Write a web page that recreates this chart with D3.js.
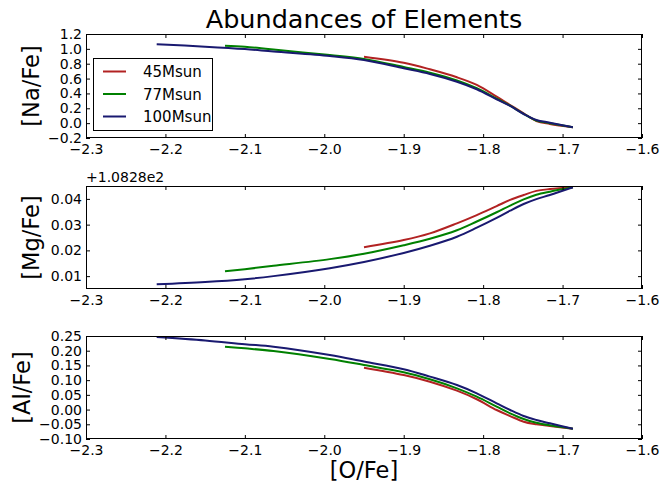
<!DOCTYPE html>
<html>
<head>
<meta charset="utf-8">
<script src="https://cdn.jsdelivr.net/npm/d3@7"></script>
<style>
  html, body { margin: 0; padding: 0; background: #fff; }
  svg { display: block; font-family: "DejaVu Sans", sans-serif; }
</style>
</head>
<body>
<svg id="chart" width="660" height="487"></svg>
<script>
// ---- data -------------------------------------------------------------
const seriesNames = ["45Msun", "77Msun", "100Msun"];
const seriesColors = ["#b22222", "#008000", "#191970"];

// [O/Fe] sample positions for each model
const oFe45  = [-1.95, -1.9, -1.867, -1.833, -1.808, -1.783, -1.766, -1.749, -1.733, -1.716, -1.687];
const oFe77  = [-2.125, -2.1, -2.064, -1.993, -1.95, -1.9, -1.867, -1.833, -1.808, -1.783, -1.766, -1.749, -1.733, -1.716, -1.687];
const oFe100 = [-2.211, -2.15, -2.1, -2.064, -1.993, -1.95, -1.9, -1.867, -1.833, -1.808, -1.783, -1.766, -1.749, -1.733, -1.716, -1.687];

// [Na/Fe]
const naFe45  = [0.895, 0.814, 0.725, 0.617, 0.514, 0.356, 0.244, 0.133, 0.029, -0.011, -0.056];
const naFe77  = [1.043, 1.03, 0.99, 0.917, 0.865, 0.755, 0.678, 0.575, 0.47, 0.33, 0.235, 0.125, 0.035, 0.0, -0.056];
const naFe100 = [1.061, 1.03, 0.998, 0.965, 0.904, 0.85, 0.738, 0.662, 0.558, 0.456, 0.321, 0.231, 0.123, 0.043, 0.006, -0.056];

// [Mg/Fe], stored relative to the axis offset
const mgOffset = 108.28;
const mgFe45  = [0.0212, 0.024, 0.0266, 0.0305, 0.0337, 0.0372, 0.0396, 0.0415, 0.0431, 0.0438, 0.0445];
const mgFe77  = [0.0119, 0.0127, 0.014, 0.0166, 0.0187, 0.022, 0.0245, 0.0278, 0.0312, 0.0348, 0.0374, 0.0398, 0.0416, 0.0428, 0.0445];
const mgFe100 = [0.0068, 0.0077, 0.0088, 0.01, 0.0131, 0.0155, 0.019, 0.0218, 0.0253, 0.0288, 0.0326, 0.0354, 0.038, 0.0399, 0.0415, 0.0445];

// [Al/Fe]
const alFe45  = [0.1424, 0.1175, 0.0948, 0.0642, 0.035, -0.0015, -0.022, -0.0412, -0.05, -0.056, -0.065];
const alFe77  = [0.2137, 0.208, 0.199, 0.1718, 0.1515, 0.1266, 0.1028, 0.0722, 0.0438, 0.0098, -0.0128, -0.032, -0.0446, -0.0535, -0.065];
const alFe100 = [0.247, 0.235, 0.222, 0.2137, 0.1854, 0.163, 0.137, 0.112, 0.0835, 0.0553, 0.0213, -0.0015, -0.022, -0.0354, -0.0467, -0.065];

// axis ticks
const xTicks  = [-2.3, -2.2, -2.1, -2.0, -1.9, -1.8, -1.7, -1.6];
const naTicks = [-0.2, 0.0, 0.2, 0.4, 0.6, 0.8, 1.0, 1.2];
const mgTicks = [0.01, 0.02, 0.03, 0.04];
const alTicks = [-0.10, -0.05, 0.00, 0.05, 0.10, 0.15, 0.20, 0.25];

// ---- layout -----------------------------------------------------------
const svg = d3.select("#chart");
const left = 86, right = 642;
const minus = s => s.replace("-", "\u2212");

const x = d3.scaleLinear().domain([-2.3, -1.6]).range([left, right]);

const panels = [
  { top: 34,  height: 104, domain: [-0.2, 1.2],   ticks: naTicks, fmt: d3.format(".1f"),
    label: "[Na/Fe]", labelX: 39, ys: [naFe45, naFe77, naFe100] },
  { top: 186, height: 103, domain: [0.005, 0.045], ticks: mgTicks, fmt: d3.format(".2f"),
    label: "[Mg/Fe]", labelX: 39, ys: [mgFe45, mgFe77, mgFe100], offset: mgOffset },
  { top: 336, height: 103, domain: [-0.10, 0.25], ticks: alTicks, fmt: d3.format(".2f"),
    label: "[Al/Fe]", labelX: 30, ys: [alFe45, alFe77, alFe100] }
];
const xsBySeries = [oFe45, oFe77, oFe100];

const fontTick = 14;

panels.forEach(p => {
  const bottom = p.top + p.height;
  const y = d3.scaleLinear().domain(p.domain).range([bottom, p.top]);
  const g = svg.append("g");

  // curves
  const clipId = "clip" + p.top;
  svg.append("clipPath").attr("id", clipId)
    .append("rect").attr("x", left).attr("y", p.top).attr("width", right - left).attr("height", p.height);
  const line = d3.line().x(d => x(d[0])).y(d => y(d[1])).curve(d3.curveCatmullRom.alpha(0.5));
  p.ys.forEach((vals, i) => {
    const pts = xsBySeries[i].map((xv, j) => [xv, vals[j]]);
    g.append("path").datum(pts)
      .attr("d", line)
      .attr("fill", "none")
      .attr("stroke", seriesColors[i])
      .attr("stroke-width", 2)
      .attr("stroke-linejoin", "round")
      .attr("clip-path", `url(#${clipId})`);
  });

  // ticks pointing inward on all four sides
  const axB = d3.axisBottom(x).tickValues(xTicks).tickSize(-4).tickPadding(6)
    .tickFormat(d => minus(d3.format(".1f")(d)));
  const axT = d3.axisTop(x).tickValues(xTicks).tickSize(-4).tickFormat("");
  const axL = d3.axisLeft(y).tickValues(p.ticks).tickSize(-4).tickPadding(4)
    .tickFormat(d => minus(p.fmt(d)));
  const axR = d3.axisRight(y).tickValues(p.ticks).tickSize(-4).tickFormat("");

  [[axB, `translate(0,${bottom})`], [axT, `translate(0,${p.top})`],
   [axL, `translate(${left},0)`], [axR, `translate(${right},0)`]].forEach(([ax, tr]) => {
    const a = g.append("g").attr("transform", tr).call(ax);
    a.select(".domain").remove();
    a.selectAll("line").attr("stroke", "#000");
    a.selectAll("text").attr("fill", "#000")
      .style("font-family", "'DejaVu Sans', sans-serif").style("font-size", fontTick + "px");
  });

  // frame
  g.append("rect").attr("x", left + 0.5).attr("y", p.top + 0.5)
    .attr("width", right - left - 1).attr("height", p.height - 1)
    .attr("fill", "none").attr("stroke", "#000").attr("stroke-width", 1);

  // y label
  g.append("text")
    .attr("transform", `translate(${p.labelX},${p.top + p.height / 2}) rotate(-90)`)
    .attr("text-anchor", "middle")
    .style("font-size", "22.5px")
    .text(p.label);

  if (p.offset !== undefined) {
    g.append("text").attr("x", left).attr("y", p.top - 4)
      .style("font-size", fontTick + "px")
      .text("+" + d3.format(".4e")(p.offset / 100).replace(/e.*/, "") + "e2");
  }
});

// title
svg.append("text").attr("x", (left + right) / 2).attr("y", 28)
  .attr("text-anchor", "middle").style("font-size", "25.5px")
  .text("Abundances of Elements");

// x label
svg.append("text").attr("x", (left + right) / 2).attr("y", 478)
  .attr("text-anchor", "middle").style("font-size", "22.5px")
  .text("[O/Fe]");

// legend
const leg = svg.append("g").attr("transform", "translate(93,58)");
leg.append("rect").attr("x", 0.5).attr("y", 0.5).attr("width", 119).attr("height", 72)
  .attr("fill", "#fff").attr("stroke", "#000").attr("stroke-width", 1);
seriesNames.forEach((name, i) => {
  const cy = 13.5 + i * 22.5;
  leg.append("line").attr("x1", 10).attr("x2", 33).attr("y1", cy).attr("y2", cy)
    .attr("stroke", seriesColors[i]).attr("stroke-width", 2);
  leg.append("text").attr("x", 50).attr("y", cy + 5.5)
    .style("font-size", "15px").text(name);
});
</script>
</body>
</html>
